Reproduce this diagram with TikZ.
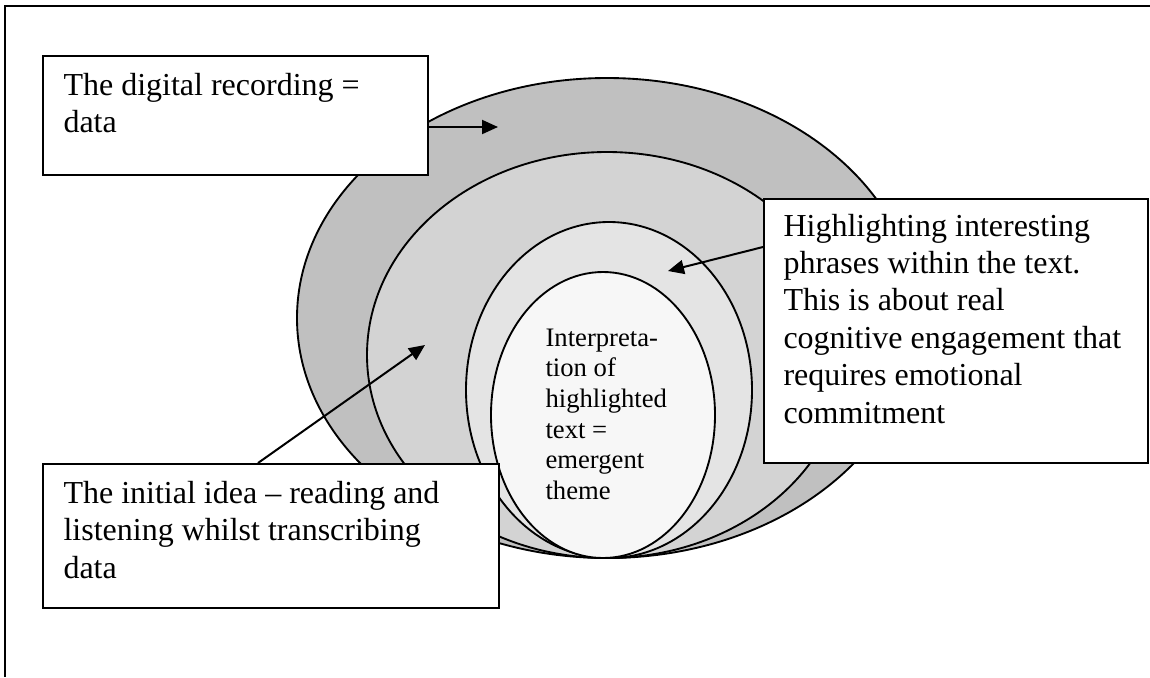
\documentclass[tikz,border=0pt]{standalone}
\usepackage{fontspec}
\setmainfont{Liberation Serif}
\usetikzlibrary{arrows.meta,shapes.geometric}
\definecolor{ringA}{RGB}{192,192,192}
\definecolor{ringB}{RGB}{211,211,211}
\definecolor{ringC}{RGB}{228,228,228}
\definecolor{ringD}{RGB}{247,247,247}
\tikzset{
  box/.style={draw, line width=0.75pt, fill=white, inner sep=0pt, anchor=north west},
  ell/.style={ellipse, draw, line width=0.7pt, inner sep=0pt},
  arr/.style={line width=0.75pt, -{Triangle[length=6pt,width=5.25pt]}},
  txt/.style={inner sep=0pt, anchor=base west, font=\fontsize{12}{14.06}\selectfont},
  smalltxt/.style={inner sep=0pt, anchor=base west, font=\fontsize{10}{11.5}\selectfont}
}
\begin{document}
\begin{tikzpicture}[x=0.375pt, y=-0.375pt]
\useasboundingbox (0,0) rectangle (1150,677);
% frame
\draw[line width=0.75pt] (1150,6) -- (5,6) -- (5,677);
% nested ellipses
\node[ell, fill=ringA, minimum width=620*0.375pt, minimum height=480*0.375pt] (e1) at (607,318) {};
\node[ell, fill=ringB, minimum width=480*0.375pt, minimum height=406*0.375pt] (e2) at (607,355) {};
\node[ell, fill=ringC, minimum width=286*0.375pt, minimum height=336*0.375pt] (e3) at (609,390) {};
\node[ell, fill=ringD, minimum width=224*0.375pt, minimum height=286*0.375pt] (e4) at (603,415) {};
\node[smalltxt] (t4) at (545,346) {\parbox[t]{60pt}{Interpreta-\\tion of\\highlighted\\text =\\emergent\\theme}};
% boxes
\node[box, minimum width=385*0.375pt, minimum height=119*0.375pt] (b1) at (42,55) {};
\node[box, minimum width=456*0.375pt, minimum height=144*0.375pt] (b2) at (42,463) {};
\node[box, minimum width=384*0.375pt, minimum height=264*0.375pt] (b3) at (763,198) {};
\node[txt] (t1) at (63,95) {\parbox[t]{140pt}{The digital recording =\\data}};
\node[txt] (t2) at (63,503) {\parbox[t]{165pt}{The initial idea \textendash\ reading and\\listening whilst transcribing\\data}};
\node[txt] (t3) at (783,236) {\parbox[t]{140pt}{Highlighting interesting\\phrases within the text.\\This is about real\\cognitive engagement that\\requires emotional\\commitment}};
% arrow tips
\coordinate (p1) at (498,127);
\coordinate (p2) at (425,345);
\coordinate (p3) at (668,271);
\draw[arr] (b1.east |- p1) -- (p1);
\draw[arr] ([xshift=81pt]b2.north west) -- (p2);
\draw[arr] ([yshift=-18.375pt]b3.north west) -- (p3);
\end{tikzpicture}
\end{document}
